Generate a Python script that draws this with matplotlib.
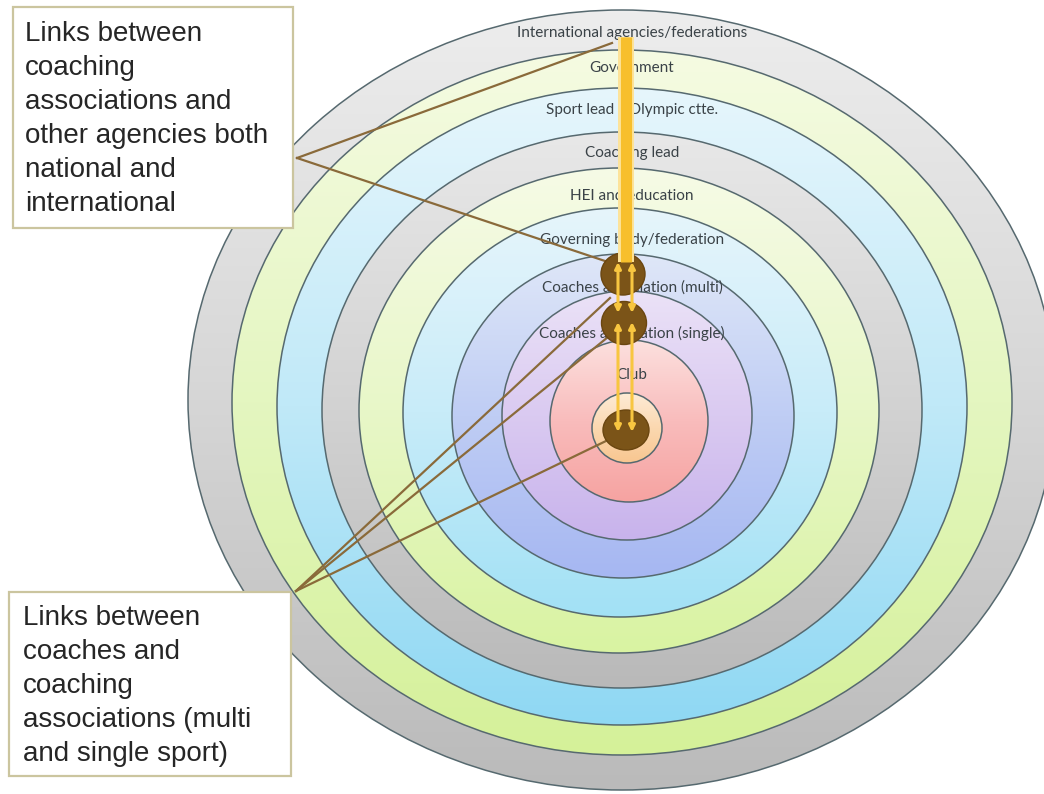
import numpy as np
import matplotlib
matplotlib.use("Agg")
import matplotlib.pyplot as plt
from matplotlib.patches import Ellipse, Rectangle
from matplotlib.colors import LinearSegmentedColormap

# rings, outermost first
ring_labels = ["International agencies/federations", "Government",
               "Sport lead / Olympic ctte.", "Coaching lead", "HEI and education",
               "Governing body/federation", "Coaches association (multi)",
               "Coaches association (single)", "Club", ""]
ring_cx = [622, 622, 622, 622, 619, 620, 623, 627, 629, 627]
ring_top = [10, 50, 88, 132, 168, 208, 254, 291, 340, 393]
ring_bottom = [790, 755, 725, 688, 653, 617, 578, 540, 502, 463]
ring_rx = [434, 390, 345, 300, 260, 217, 171, 125, 79, 35]
label_y = [33, 68, 110, 153, 196, 240, 288, 333, 375]

# top / middle / bottom colour of each ring
ring_colors = [
    ["#ededed", "#d6d6d6", "#bababa"],
    ["#f5fbe2", "#e4f6c0", "#d5f199"],
    ["#e6f6fc", "#c0e9f8", "#8fd8f3"],
    ["#e8e8e8", "#d2d2d2", "#b9b9b9"],
    ["#f6fbe6", "#e8f7c8", "#d9f3a2"],
    ["#e6f5fb", "#c8ecf9", "#a2e1f5"],
    ["#dfe7f8", "#bfcdf4", "#a6b7f2"],
    ["#ebe2f7", "#dacaf1", "#c8b3ec"],
    ["#fce0de", "#f9bcbc", "#f6a3a1"],
    ["#fdebd6", "#fbd8b0", "#f8c690"],
]

# brown nodes (coaches assoc. multi, single, coach)
node_x = [623, 624, 626]
node_y = [274, 323, 430]
node_w = [44, 45, 46]
node_h = [42, 43, 40]

top_box_lines = ["Links between", "coaching", "associations and",
                 "other agencies both", "national and", "international"]
bottom_box_lines = ["Links between", "coaches and", "coaching",
                    "associations (multi", "and single sport)"]

fig = plt.figure(figsize=(10.44, 7.94), dpi=100)
ax = fig.add_axes([0, 0, 1, 1])
ax.set_xlim(0, 1044)
ax.set_ylim(794, 0)
ax.axis("off")

grad = np.linspace(0, 1, 256).reshape(-1, 1)
z = 1
for cx, t, b, rx, cols in zip(ring_cx, ring_top, ring_bottom, ring_rx, ring_colors):
    cy = (t + b) / 2
    ry = (b - t) / 2
    e = Ellipse((cx, cy), 2 * rx, 2 * ry, facecolor="none",
                edgecolor="#56696f", lw=1.1, zorder=z + 1)
    ax.add_patch(e)
    cmap = LinearSegmentedColormap.from_list("ring", cols)
    im = ax.imshow(grad, cmap=cmap, extent=[cx - rx, cx + rx, b, t],
                   aspect="auto", origin="upper", zorder=z)
    im.set_clip_path(e)
    z += 2

ax.set_xlim(0, 1044)
ax.set_ylim(794, 0)

for lab, y in zip(ring_labels, label_y):
    ax.text(632, y, lab, ha="center", va="center", fontsize=11,
            family="Lato", color="#3a4247", zorder=30)

# brown link lines
line_col = "#8a6a3a"
ax.plot([297, 612], [158, 43], color=line_col, lw=1.6, zorder=31)
ax.plot([297, 608], [158, 262], color=line_col, lw=1.6, zorder=31)
ax.plot([296, 610], [591, 298], color=line_col, lw=1.6, zorder=31)
ax.plot([296, 608], [591, 337], color=line_col, lw=1.6, zorder=31)
ax.plot([296, 606], [591, 441], color=line_col, lw=1.6, zorder=31)

for x, y, w, h in zip(node_x, node_y, node_w, node_h):
    ax.add_patch(Ellipse((x, y), w, h, facecolor="#7b5418",
                         edgecolor="#6a4610", lw=1, zorder=32))

# yellow link to the international level
ax.plot([626, 626], [37, 262], color="#fde39a", lw=11.5, solid_capstyle="butt", zorder=33)
ax.plot([626, 626], [37, 262], color="#f7bf2c", lw=8, solid_capstyle="butt", zorder=34)

arrow_kw = dict(arrowstyle="<|-|>", color="#f8c640", lw=2.2,
                mutation_scale=9, shrinkA=0, shrinkB=0)
for x in [618, 632]:
    ax.annotate("", xy=(x, 262), xytext=(x, 313), arrowprops=arrow_kw, zorder=35)
    ax.annotate("", xy=(x, 322), xytext=(x, 432), arrowprops=arrow_kw, zorder=35)

# text boxes
ax.add_patch(Rectangle((13, 7), 280, 221, facecolor="white",
                       edgecolor="#cbc59f", lw=1.6, zorder=40))
for i, s in enumerate(top_box_lines):
    ax.text(25, 34 + i * 34, s, ha="left", va="center", fontsize=20,
            family="Liberation Sans", color="#262626", zorder=41)

ax.add_patch(Rectangle((9, 592), 282, 184, facecolor="white",
                       edgecolor="#cbc59f", lw=1.6, zorder=40))
for i, s in enumerate(bottom_box_lines):
    ax.text(23, 618 + i * 34, s, ha="left", va="center", fontsize=20,
            family="Liberation Sans", color="#262626", zorder=41)

fig.savefig("out.png", dpi=100)
